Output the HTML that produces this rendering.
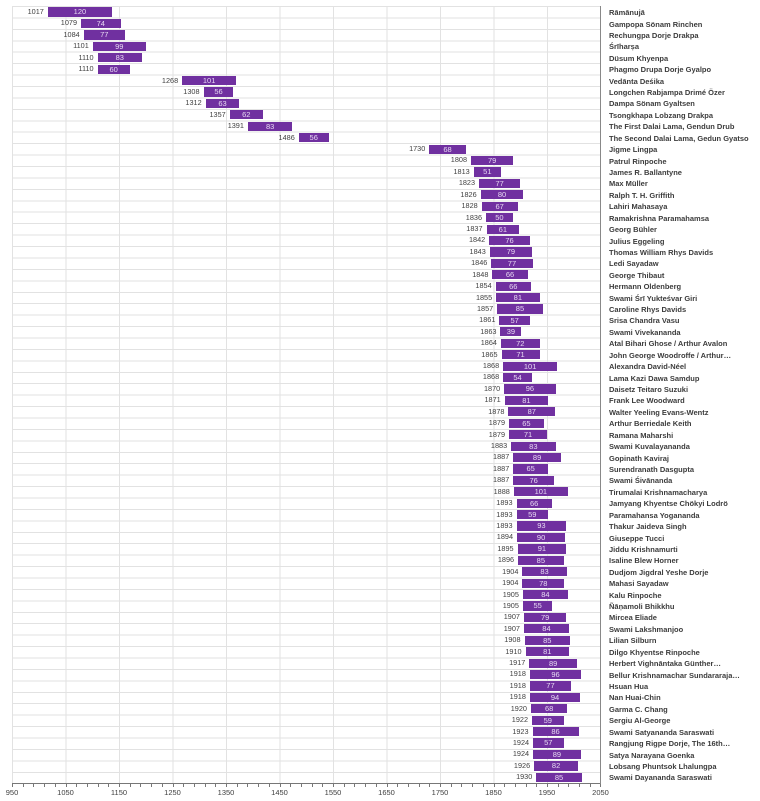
<!DOCTYPE html>
<html><head><meta charset="utf-8"><style>
body{margin:0;background:#fff;width:760px;height:801px;overflow:hidden;position:relative;font-family:"Liberation Sans","DejaVu Sans",sans-serif}
#plot{position:absolute;left:12px;top:6.3px;width:588px;height:777px;
background-image:repeating-linear-gradient(to bottom,#e2e2e2 0,#e2e2e2 1px,transparent 1px,transparent 11.43px),
repeating-linear-gradient(to right,#e2e2e2 0,#e2e2e2 1px,transparent 1px,transparent 53.5px);}
#rows{position:absolute;left:0;top:6.3px;width:760px}
.r{position:relative;height:11.43px}
.b{position:absolute;top:1.2px;height:9.2px;background:#7030a0;left:calc(12px + (var(--s) - 950) * 0.535px);width:calc(var(--d) * 0.535px);color:#e6d8f2;font-size:7.5px;line-height:9.2px;text-align:center}
.y{position:absolute;right:100%;margin-right:4px;top:-0.5px;color:#404040;font-size:7.3px}
.n{position:absolute;left:609px;top:0.8px;font-size:7.5px;font-weight:bold;color:#3c3c3c;white-space:nowrap;line-height:11px}
#xa{position:absolute;left:12px;top:783px;width:588px;height:1px;background:#777}
#ya{position:absolute;left:600px;top:6px;width:1px;height:778px;background:#888}
.t{position:absolute;top:784px;width:1px;height:3px;background:#777}
.tl{position:absolute;top:788px;font-size:7.5px;color:#404040;width:30px;margin-left:-15px;text-align:center}
</style></head><body>
<div id="plot"></div>
<div id="xa"></div><div id="ya"></div>
<div id="rows">
<div class="r"><div class="b" style="--s:1017;--d:120"><span class="y">1017</span>120</div><div class="n">Rāmānujā</div></div>
<div class="r"><div class="b" style="--s:1079;--d:74"><span class="y">1079</span>74</div><div class="n">Gampopa Sönam Rinchen</div></div>
<div class="r"><div class="b" style="--s:1084;--d:77"><span class="y">1084</span>77</div><div class="n">Rechungpa Dorje Drakpa</div></div>
<div class="r"><div class="b" style="--s:1101;--d:99"><span class="y">1101</span>99</div><div class="n">Śrīharṣa</div></div>
<div class="r"><div class="b" style="--s:1110;--d:83"><span class="y">1110</span>83</div><div class="n">Düsum Khyenpa</div></div>
<div class="r"><div class="b" style="--s:1110;--d:60"><span class="y">1110</span>60</div><div class="n">Phagmo Drupa Dorje Gyalpo</div></div>
<div class="r"><div class="b" style="--s:1268;--d:101"><span class="y">1268</span>101</div><div class="n">Vedānta Deśika</div></div>
<div class="r"><div class="b" style="--s:1308;--d:56"><span class="y">1308</span>56</div><div class="n">Longchen Rabjampa Drimé Özer</div></div>
<div class="r"><div class="b" style="--s:1312;--d:63"><span class="y">1312</span>63</div><div class="n">Dampa Sönam Gyaltsen</div></div>
<div class="r"><div class="b" style="--s:1357;--d:62"><span class="y">1357</span>62</div><div class="n">Tsongkhapa Lobzang Drakpa</div></div>
<div class="r"><div class="b" style="--s:1391;--d:83"><span class="y">1391</span>83</div><div class="n">The First Dalai Lama, Gendun Drub</div></div>
<div class="r"><div class="b" style="--s:1486;--d:56"><span class="y">1486</span>56</div><div class="n">The Second Dalai Lama, Gedun Gyatso</div></div>
<div class="r"><div class="b" style="--s:1730;--d:68"><span class="y">1730</span>68</div><div class="n">Jigme Lingpa</div></div>
<div class="r"><div class="b" style="--s:1808;--d:79"><span class="y">1808</span>79</div><div class="n">Patrul Rinpoche</div></div>
<div class="r"><div class="b" style="--s:1813;--d:51"><span class="y">1813</span>51</div><div class="n">James R. Ballantyne</div></div>
<div class="r"><div class="b" style="--s:1823;--d:77"><span class="y">1823</span>77</div><div class="n">Max Müller</div></div>
<div class="r"><div class="b" style="--s:1826;--d:80"><span class="y">1826</span>80</div><div class="n">Ralph T. H. Griffith</div></div>
<div class="r"><div class="b" style="--s:1828;--d:67"><span class="y">1828</span>67</div><div class="n">Lahiri Mahasaya</div></div>
<div class="r"><div class="b" style="--s:1836;--d:50"><span class="y">1836</span>50</div><div class="n">Ramakrishna Paramahamsa</div></div>
<div class="r"><div class="b" style="--s:1837;--d:61"><span class="y">1837</span>61</div><div class="n">Georg Bühler</div></div>
<div class="r"><div class="b" style="--s:1842;--d:76"><span class="y">1842</span>76</div><div class="n">Julius Eggeling</div></div>
<div class="r"><div class="b" style="--s:1843;--d:79"><span class="y">1843</span>79</div><div class="n">Thomas William Rhys Davids</div></div>
<div class="r"><div class="b" style="--s:1846;--d:77"><span class="y">1846</span>77</div><div class="n">Ledi Sayadaw</div></div>
<div class="r"><div class="b" style="--s:1848;--d:66"><span class="y">1848</span>66</div><div class="n">George Thibaut</div></div>
<div class="r"><div class="b" style="--s:1854;--d:66"><span class="y">1854</span>66</div><div class="n">Hermann Oldenberg</div></div>
<div class="r"><div class="b" style="--s:1855;--d:81"><span class="y">1855</span>81</div><div class="n">Swami Śrī Yukteśvar Giri</div></div>
<div class="r"><div class="b" style="--s:1857;--d:85"><span class="y">1857</span>85</div><div class="n">Caroline Rhys Davids</div></div>
<div class="r"><div class="b" style="--s:1861;--d:57"><span class="y">1861</span>57</div><div class="n">Srisa Chandra Vasu</div></div>
<div class="r"><div class="b" style="--s:1863;--d:39"><span class="y">1863</span>39</div><div class="n">Swami Vivekananda</div></div>
<div class="r"><div class="b" style="--s:1864;--d:72"><span class="y">1864</span>72</div><div class="n">Atal Bihari Ghose / Arthur Avalon</div></div>
<div class="r"><div class="b" style="--s:1865;--d:71"><span class="y">1865</span>71</div><div class="n">John George Woodroffe / Arthur…</div></div>
<div class="r"><div class="b" style="--s:1868;--d:101"><span class="y">1868</span>101</div><div class="n">Alexandra David-Néel</div></div>
<div class="r"><div class="b" style="--s:1868;--d:54"><span class="y">1868</span>54</div><div class="n">Lama Kazi Dawa Samdup</div></div>
<div class="r"><div class="b" style="--s:1870;--d:96"><span class="y">1870</span>96</div><div class="n">Daisetz Teitaro Suzuki</div></div>
<div class="r"><div class="b" style="--s:1871;--d:81"><span class="y">1871</span>81</div><div class="n">Frank Lee Woodward</div></div>
<div class="r"><div class="b" style="--s:1878;--d:87"><span class="y">1878</span>87</div><div class="n">Walter Yeeling Evans-Wentz</div></div>
<div class="r"><div class="b" style="--s:1879;--d:65"><span class="y">1879</span>65</div><div class="n">Arthur Berriedale Keith</div></div>
<div class="r"><div class="b" style="--s:1879;--d:71"><span class="y">1879</span>71</div><div class="n">Ramana Maharshi</div></div>
<div class="r"><div class="b" style="--s:1883;--d:83"><span class="y">1883</span>83</div><div class="n">Swami Kuvalayananda</div></div>
<div class="r"><div class="b" style="--s:1887;--d:89"><span class="y">1887</span>89</div><div class="n">Gopinath Kaviraj</div></div>
<div class="r"><div class="b" style="--s:1887;--d:65"><span class="y">1887</span>65</div><div class="n">Surendranath Dasgupta</div></div>
<div class="r"><div class="b" style="--s:1887;--d:76"><span class="y">1887</span>76</div><div class="n">Swami Śivānanda</div></div>
<div class="r"><div class="b" style="--s:1888;--d:101"><span class="y">1888</span>101</div><div class="n">Tirumalai Krishnamacharya</div></div>
<div class="r"><div class="b" style="--s:1893;--d:66"><span class="y">1893</span>66</div><div class="n">Jamyang Khyentse Chökyi Lodrö</div></div>
<div class="r"><div class="b" style="--s:1893;--d:59"><span class="y">1893</span>59</div><div class="n">Paramahansa Yogananda</div></div>
<div class="r"><div class="b" style="--s:1893;--d:93"><span class="y">1893</span>93</div><div class="n">Thakur Jaideva Singh</div></div>
<div class="r"><div class="b" style="--s:1894;--d:90"><span class="y">1894</span>90</div><div class="n">Giuseppe Tucci</div></div>
<div class="r"><div class="b" style="--s:1895;--d:91"><span class="y">1895</span>91</div><div class="n">Jiddu Krishnamurti</div></div>
<div class="r"><div class="b" style="--s:1896;--d:85"><span class="y">1896</span>85</div><div class="n">Isaline Blew Horner</div></div>
<div class="r"><div class="b" style="--s:1904;--d:83"><span class="y">1904</span>83</div><div class="n">Dudjom Jigdral Yeshe Dorje</div></div>
<div class="r"><div class="b" style="--s:1904;--d:78"><span class="y">1904</span>78</div><div class="n">Mahasi Sayadaw</div></div>
<div class="r"><div class="b" style="--s:1905;--d:84"><span class="y">1905</span>84</div><div class="n">Kalu Rinpoche</div></div>
<div class="r"><div class="b" style="--s:1905;--d:55"><span class="y">1905</span>55</div><div class="n">Ñāṇamoli Bhikkhu</div></div>
<div class="r"><div class="b" style="--s:1907;--d:79"><span class="y">1907</span>79</div><div class="n">Mircea Eliade</div></div>
<div class="r"><div class="b" style="--s:1907;--d:84"><span class="y">1907</span>84</div><div class="n">Swami Lakshmanjoo</div></div>
<div class="r"><div class="b" style="--s:1908;--d:85"><span class="y">1908</span>85</div><div class="n">Lilian Silburn</div></div>
<div class="r"><div class="b" style="--s:1910;--d:81"><span class="y">1910</span>81</div><div class="n">Dilgo Khyentse Rinpoche</div></div>
<div class="r"><div class="b" style="--s:1917;--d:89"><span class="y">1917</span>89</div><div class="n">Herbert Vighnāntaka Günther…</div></div>
<div class="r"><div class="b" style="--s:1918;--d:96"><span class="y">1918</span>96</div><div class="n">Bellur Krishnamachar Sundararaja…</div></div>
<div class="r"><div class="b" style="--s:1918;--d:77"><span class="y">1918</span>77</div><div class="n">Hsuan Hua</div></div>
<div class="r"><div class="b" style="--s:1918;--d:94"><span class="y">1918</span>94</div><div class="n">Nan Huai-Chin</div></div>
<div class="r"><div class="b" style="--s:1920;--d:68"><span class="y">1920</span>68</div><div class="n">Garma C. Chang</div></div>
<div class="r"><div class="b" style="--s:1922;--d:59"><span class="y">1922</span>59</div><div class="n">Sergiu Al-George</div></div>
<div class="r"><div class="b" style="--s:1923;--d:86"><span class="y">1923</span>86</div><div class="n">Swami Satyananda Saraswati</div></div>
<div class="r"><div class="b" style="--s:1924;--d:57"><span class="y">1924</span>57</div><div class="n">Rangjung Rigpe Dorje, The 16th…</div></div>
<div class="r"><div class="b" style="--s:1924;--d:89"><span class="y">1924</span>89</div><div class="n">Satya Narayana Goenka</div></div>
<div class="r"><div class="b" style="--s:1926;--d:82"><span class="y">1926</span>82</div><div class="n">Lobsang Phuntsok Lhalungpa</div></div>
<div class="r"><div class="b" style="--s:1930;--d:85"><span class="y">1930</span>85</div><div class="n">Swami Dayananda Saraswati</div></div>
</div>
<div class="t" style="left:12px"></div><div class="t" style="left:22.7px"></div><div class="t" style="left:33.4px"></div><div class="t" style="left:44.1px"></div><div class="t" style="left:54.8px"></div><div class="t" style="left:65.5px"></div><div class="t" style="left:76.2px"></div><div class="t" style="left:86.9px"></div><div class="t" style="left:97.6px"></div><div class="t" style="left:108.3px"></div><div class="t" style="left:119px"></div><div class="t" style="left:129.7px"></div><div class="t" style="left:140.4px"></div><div class="t" style="left:151.1px"></div><div class="t" style="left:161.8px"></div><div class="t" style="left:172.5px"></div><div class="t" style="left:183.2px"></div><div class="t" style="left:193.9px"></div><div class="t" style="left:204.6px"></div><div class="t" style="left:215.3px"></div><div class="t" style="left:226px"></div><div class="t" style="left:236.7px"></div><div class="t" style="left:247.4px"></div><div class="t" style="left:258.1px"></div><div class="t" style="left:268.8px"></div><div class="t" style="left:279.5px"></div><div class="t" style="left:290.2px"></div><div class="t" style="left:300.9px"></div><div class="t" style="left:311.6px"></div><div class="t" style="left:322.3px"></div><div class="t" style="left:333px"></div><div class="t" style="left:343.7px"></div><div class="t" style="left:354.4px"></div><div class="t" style="left:365.1px"></div><div class="t" style="left:375.8px"></div><div class="t" style="left:386.5px"></div><div class="t" style="left:397.2px"></div><div class="t" style="left:407.9px"></div><div class="t" style="left:418.6px"></div><div class="t" style="left:429.3px"></div><div class="t" style="left:440px"></div><div class="t" style="left:450.7px"></div><div class="t" style="left:461.4px"></div><div class="t" style="left:472.1px"></div><div class="t" style="left:482.8px"></div><div class="t" style="left:493.5px"></div><div class="t" style="left:504.2px"></div><div class="t" style="left:514.9px"></div><div class="t" style="left:525.6px"></div><div class="t" style="left:536.3px"></div><div class="t" style="left:547px"></div><div class="t" style="left:557.7px"></div><div class="t" style="left:568.4px"></div><div class="t" style="left:579.1px"></div><div class="t" style="left:589.8px"></div><div class="t" style="left:600px"></div>
<div class="tl" style="left:12px">950</div><div class="tl" style="left:65.5px">1050</div><div class="tl" style="left:119px">1150</div><div class="tl" style="left:172.5px">1250</div><div class="tl" style="left:226px">1350</div><div class="tl" style="left:279.5px">1450</div><div class="tl" style="left:333px">1550</div><div class="tl" style="left:386.5px">1650</div><div class="tl" style="left:440px">1750</div><div class="tl" style="left:493.5px">1850</div><div class="tl" style="left:547px">1950</div><div class="tl" style="left:600.5px">2050</div>
</body></html>
